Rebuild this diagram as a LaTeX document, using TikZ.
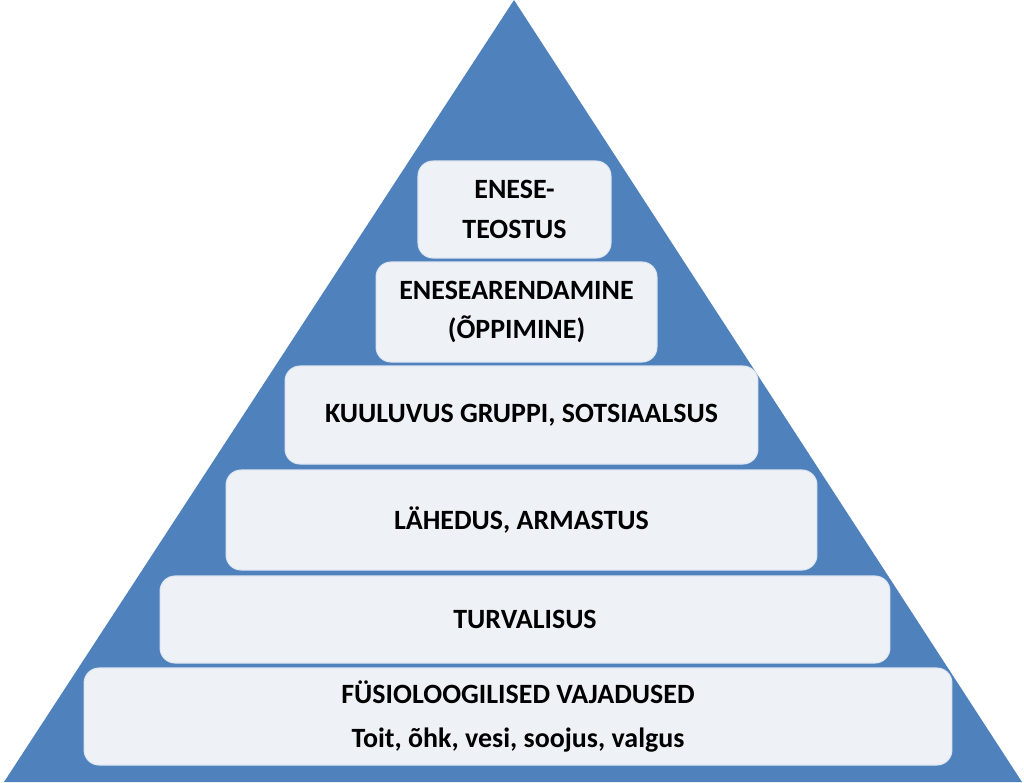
\documentclass[tikz,border=0pt]{standalone}
\usepackage{fontspec}
\setmainfont{Carlito}
\usepackage{tikz}
\definecolor{pyrblue}{RGB}{79,129,189}
\definecolor{levelfill}{RGB}{238,242,247}
\definecolor{leveledge}{RGB}{222,230,241}

\begin{document}
\begin{tikzpicture}[
            x=0.02cm, y=-0.02cm,
            level/.style={rounded corners=0.3cm, fill=levelfill, draw=leveledge, line width=0.6pt,
                inner sep=0pt, align=center, font=\fontsize{15.9}{22.7}\selectfont\bfseries},
        ]
            \useasboundingbox (0,0) rectangle (1024,782);
            \coordinate (apex) at (514,0);
            \coordinate (baseL) at (4,782);
            \coordinate (baseR) at (1022,782);

            % pyramid
            \fill[pyrblue] (apex) -- (baseL) -- (baseR) -- cycle;

            % levels, top to bottom
            \node[level, minimum width=3.86cm, minimum height=1.94cm] (selfreal) at (514.5,209.5) {ENESE-\\TEOSTUS};
            \node[level, minimum width=5.62cm, minimum height=2.0cm] (growth) at (516.5,312) {ENESEARENDAMINE\\(ÕPPIMINE)};
            \node[level, minimum width=9.46cm, minimum height=1.96cm] (belong) at (521.5,415) {KUULUVUS GRUPPI, SOTSIAALSUS};
            \node[level, minimum width=11.82cm, minimum height=2.0cm] (love) at (521.5,520) {LÄHEDUS, ARMASTUS};
            \node[level, minimum width=14.6cm, minimum height=1.74cm] (safety) at (525,619.5) {TURVALISUS};
            \node[level, minimum width=17.36cm, minimum height=1.94cm] (physio) at (518,716.5)
                {FÜSIOLOOGILISED VAJADUSED\\[2.8pt]Toit, õhk, vesi, soojus, valgus};
        \end{tikzpicture}
\end{document}
